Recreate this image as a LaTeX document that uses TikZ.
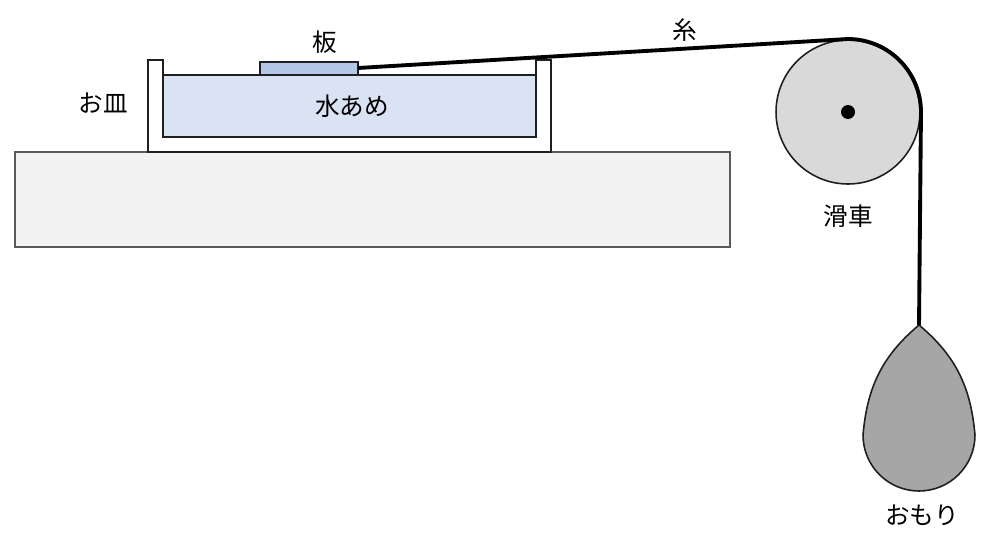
\documentclass[tikz,border=0pt]{standalone}
\usepackage{fontspec}
\setmainfont{Noto Sans CJK JP}
\usetikzlibrary{positioning}
\definecolor{tablegray}{HTML}{F2F2F2}
\definecolor{syrupblue}{HTML}{DAE3F3}
\definecolor{platec}{HTML}{B4C7E7}
\definecolor{pulleyc}{HTML}{D9D9D9}
\definecolor{weightc}{HTML}{A6A6A6}
\definecolor{edgec}{HTML}{1F1F1F}
\tikzset{
  lbl/.style={font=\fontsize{14}{16}\selectfont,inner sep=0pt},
  part/.style={draw=edgec,line width=0.9pt},
  string/.style={line width=2.2pt,black}
}
\begin{document}
\begin{tikzpicture}[x=0.02cm,y=-0.02cm]
\useasboundingbox (0,0) rectangle (986,545);
% table
\draw[draw=gray!70!black,fill=tablegray,line width=0.9pt] (15,152) rectangle (730,247);
% dish and syrup
\draw[part,fill=white] (148,60) -- (148,152) -- (551,152) -- (551,60) -- (536,60) -- (536,137) -- (163,137) -- (163,60) -- cycle;
\draw[part,fill=syrupblue] (163,75) rectangle (536,137);
\draw[part,fill=platec] (260,62) rectangle (358,75);
\coordinate (plateend) at (358,68);
% pulley
\node[part,circle,fill=pulleyc,minimum size=2.88cm,inner sep=0pt] (pulley) at (848,112) {};
\fill (pulley.center) circle (0.14cm);
\coordinate (ptop) at (848,39);
\coordinate (pside) at (921,112);
% weight
\coordinate (wtop) at (919,325);
\draw[part,fill=weightc] (wtop) to[out=220,in=85] (863,435) arc[start angle=180,end angle=360,radius=1.12cm] to[out=95,in=-40] (wtop);
% string
\draw[string] (plateend) -- (ptop) arc[start angle=90,end angle=0,radius=1.46cm] -- (wtop);
% labels
\node[lbl] (ita) at (325,42) {板};
\node[lbl] (ito) at (685,30) {糸};
\node[lbl] (osara) at (103,103) {お皿};
\node[lbl] (mizuame) at (352,106) {水あめ};
\node[lbl] (kassha) at (848,216) {滑車};
\node[lbl] (omori) at (922,515) {おもり};
\end{tikzpicture}
\end{document}
